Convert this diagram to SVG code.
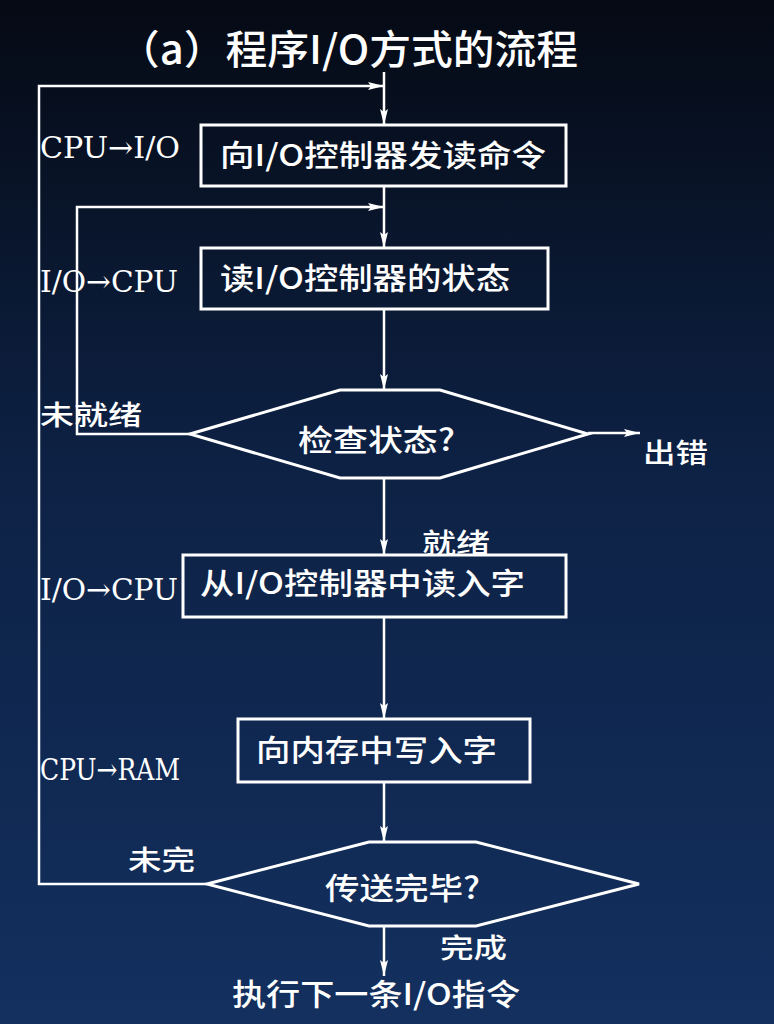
<svg xmlns="http://www.w3.org/2000/svg" width="774" height="1024" viewBox="0 0 774 1024">
<defs>
<linearGradient id="bg" x1="0" y1="0" x2="0" y2="1">
<stop offset="0" stop-color="#050a14"/>
<stop offset="0.45" stop-color="#0d2144"/>
<stop offset="1" stop-color="#13305f"/>
</linearGradient>
<marker id="arr" viewBox="0 0 16 8" refX="16" refY="4" markerWidth="16" markerHeight="8" markerUnits="userSpaceOnUse" orient="auto">
<path d="M0,0 L16,4 L0,8 L3,4 Z" fill="#ffffff"/>
</marker>
<style>
.box{fill:none;stroke:#ffffff;stroke-width:3}
.ln{fill:none;stroke:#ffffff;stroke-width:2.5}
.t{fill:#ffffff;font-family:"Noto Sans CJK SC","Liberation Serif",sans-serif;font-size:30px;font-weight:500}
.ttl{font-size:40px}
.lb{fill:#ffffff;font-family:"Noto Sans CJK SC",sans-serif;font-size:27px;font-weight:500}
.io{fill:#ffffff;font-family:"DejaVu Serif Condensed","DejaVu Serif","Liberation Serif",serif;font-size:30px}
</style>
</defs>
<rect x="0" y="0" width="774" height="1024" fill="url(#bg)"/>
<text id="title" class="t ttl" x="118" y="64" textLength="460" lengthAdjust="spacingAndGlyphs">（a）程序I/O方式的流程</text>
<g id="connectors">
<line class="ln" x1="384" y1="72" x2="384" y2="125" marker-end="url(#arr)"/>
<polyline class="ln" points="207,884 39,884 39,86 384,86" marker-end="url(#arr)"/>
<line class="ln" x1="384" y1="186" x2="384" y2="248" marker-end="url(#arr)"/>
<polyline class="ln" points="190,434 77,434 77,207 384,207" marker-end="url(#arr)"/>
<line class="ln" x1="384" y1="309" x2="384" y2="390" marker-end="url(#arr)"/>
<line class="ln" x1="588" y1="433" x2="640" y2="433" marker-end="url(#arr)"/>
<line class="ln" x1="384" y1="478" x2="384" y2="555" marker-end="url(#arr)"/>
<line class="ln" x1="384" y1="617" x2="384" y2="719" marker-end="url(#arr)"/>
<line class="ln" x1="384" y1="782" x2="384" y2="842" marker-end="url(#arr)"/>
<line class="ln" x1="384" y1="926" x2="384" y2="976" marker-end="url(#arr)"/>
<text class="lb" x="40" y="425" textLength="102" lengthAdjust="spacingAndGlyphs">未就绪</text>
<text class="lb" x="643" y="463" textLength="65" lengthAdjust="spacingAndGlyphs">出错</text>
<text class="lb" x="422" y="553" textLength="68" lengthAdjust="spacingAndGlyphs">就绪</text>
<text class="lb" x="128" y="870" textLength="67" lengthAdjust="spacingAndGlyphs">未完</text>
<text class="lb" x="440" y="958" textLength="67" lengthAdjust="spacingAndGlyphs">完成</text>
</g>
<g id="n1">
<rect class="box" x="201" y="125" width="365" height="61"/>
<text class="t" x="220" y="166" textLength="326" lengthAdjust="spacingAndGlyphs">向I/O控制器发读命令</text>
<text class="io" x="40" y="158" textLength="140" lengthAdjust="spacingAndGlyphs">CPU→I/O</text>
</g>
<g id="n2">
<rect class="box" x="201" y="248" width="347" height="61"/>
<text class="t" x="220" y="289" textLength="290" lengthAdjust="spacingAndGlyphs">读I/O控制器的状态</text>
<text class="io" x="40" y="292" textLength="138" lengthAdjust="spacingAndGlyphs">I/O→CPU</text>
</g>
<g id="n3">
<polygon class="box" points="190,434 340,390 440,390 588,434 440,478 340,478"/>
<text class="t" x="298" y="451" textLength="157" lengthAdjust="spacingAndGlyphs">检查状态?</text>
</g>
<g id="n4">
<rect class="box" x="183" y="555" width="383" height="62"/>
<text class="t" x="200" y="594" textLength="325" lengthAdjust="spacingAndGlyphs">从I/O控制器中读入字</text>
<text class="io" x="40" y="600" textLength="138" lengthAdjust="spacingAndGlyphs">I/O→CPU</text>
</g>
<g id="n5">
<rect class="box" x="238" y="719" width="292" height="63"/>
<text class="t" x="256" y="761" textLength="241" lengthAdjust="spacingAndGlyphs">向内存中写入字</text>
<text class="io" x="40" y="780" textLength="140" lengthAdjust="spacingAndGlyphs">CPU→RAM</text>
</g>
<g id="n6">
<polygon class="box" points="207,884 369,842 476,842 639,884 476,926 369,926"/>
<text class="t" x="325" y="899" textLength="155" lengthAdjust="spacingAndGlyphs">传送完毕?</text>
</g>
<g id="n7">
<text class="t" x="232" y="1005" textLength="288" lengthAdjust="spacingAndGlyphs">执行下一条I/O指令</text>
</g>
</svg>
